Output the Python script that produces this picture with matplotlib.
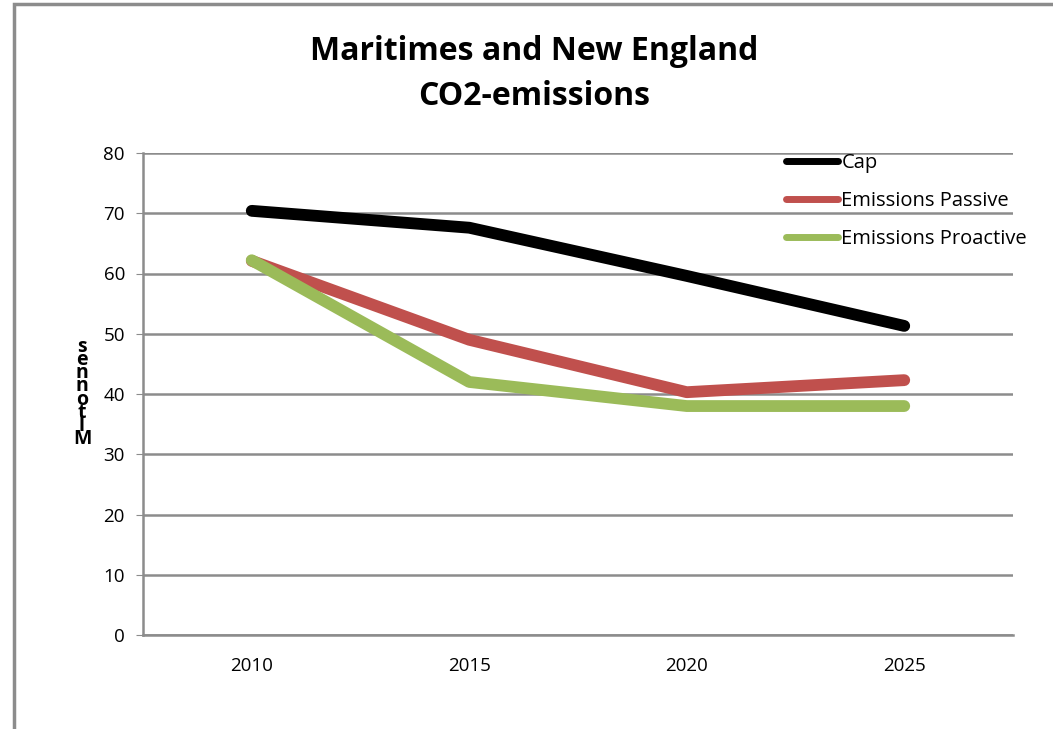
import matplotlib.pyplot as plt
from matplotlib.patches import Rectangle

years = ['2010', '2015', '2020', '2025']
cap = [70.4, 67.6, 59.6, 51.3]
passive = [62.1, 49.0, 40.3, 42.3]
proactive = [62.2, 42.0, 38.0, 38.0]
yticks = [0, 10, 20, 30, 40, 50, 60, 70, 80]

plt.rcParams['font.family'] = ['Open Sans', 'DejaVu Sans']

fig = plt.figure(figsize=(10.53, 7.29), dpi=100)
ax = fig.add_axes([143 / 1053, 1 - 635 / 729, (1013 - 143) / 1053, (635 - 153) / 729])

# outer chart frame
fig.patches.append(Rectangle((14 / 1053, -0.05), 1.1, 1 - 4 / 729 + 0.05,
                             transform=fig.transFigure, fill=False,
                             edgecolor='#8c8c8c', linewidth=2.5))

x = range(len(years))
lw = 8.5
ax.plot(x, cap, color='black', linewidth=lw, solid_capstyle='round',
        solid_joinstyle='round', label='Cap', zorder=3)
ax.plot(x, passive, color='#c0504d', linewidth=lw, solid_capstyle='round',
        solid_joinstyle='round', label='Emissions Passive', zorder=3)
ax.plot(x, proactive, color='#9bbb59', linewidth=lw, solid_capstyle='round',
        solid_joinstyle='round', label='Emissions Proactive', zorder=3)

ax.set_xlim(-0.5, 3.5)
ax.set_ylim(0, 80)
ax.set_yticks(yticks)
ax.set_xticks(list(x))
ax.set_xticklabels(years)
ax.tick_params(axis='x', length=0, pad=16, labelsize=13.5)
ax.tick_params(axis='y', length=5, color='#8c8c8c', labelsize=13.5, pad=8)
ax.yaxis.grid(True, color='#8c8c8c', linewidth=1.8)
ax.set_axisbelow(True)
for s in ['top', 'right']:
    ax.spines[s].set_visible(False)
for s in ['left', 'bottom']:
    ax.spines[s].set_color('#8c8c8c')
    ax.spines[s].set_linewidth(1.8)

fig.text(534 / 1053, 1 - 74 / 729, 'Maritimes and New England\nCO2-emissions',
         ha='center', va='center', fontsize=23, fontweight='bold', linespacing=1.45)

fig.text(82 / 1053, 1 - 393 / 729, 's\ne\nn\nn\no\nt\nl\nM', ha='center', va='center',
         fontsize=14, fontweight='bold', linespacing=0.55)

leg = ax.legend(loc='upper left', bbox_to_anchor=((774 - 143) / 870, 1.025),
                frameon=False, fontsize=14.5, handlelength=2.6, handletextpad=0.15,
                labelspacing=0.9, borderaxespad=0.2)
for line in leg.get_lines():
    line.set_linewidth(5)

fig.savefig('out.png', dpi=100)
